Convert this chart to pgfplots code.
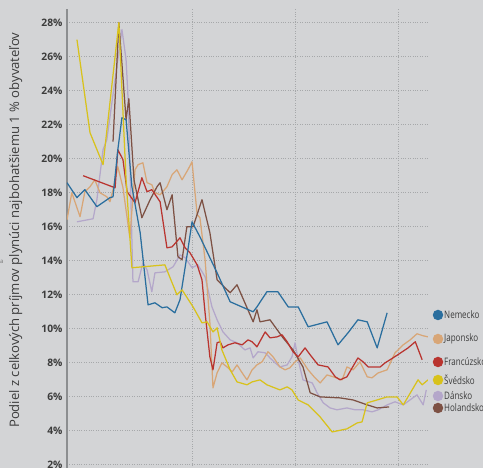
\documentclass[border=0pt]{standalone}
\usepackage{fontspec}
\setmainfont{Open Sans}
\usepackage{pgfplots}
\pgfplotsset{compat=1.18}
\definecolor{bg}{HTML}{D3D4D6}
\definecolor{gridc}{HTML}{A6A8AA}
\definecolor{axc}{HTML}{8C8E90}
\definecolor{txt}{HTML}{3C3C3C}
\definecolor{cde}{HTML}{2A6E9E}
\definecolor{cjp}{HTML}{D8A677}
\definecolor{cfr}{HTML}{B9342F}
\definecolor{cse}{HTML}{D8C21C}
\definecolor{cdk}{HTML}{B4A7CA}
\definecolor{cnl}{HTML}{7D5144}
\newcommand{\lgd}[1]{\fontsize{10.3}{12}\selectfont\scalebox{0.78}[1]{#1}}
\begin{document}
\begin{tikzpicture}
\fill[bg] (0pt,0pt) rectangle (483pt,468pt);
\begin{axis}[
  at={(67pt,0pt)}, anchor=south west,
  scale only axis, width=361pt, height=459pt,
  xmin=1903.6, xmax=2008.7, ymin=1.82, ymax=28.8,
  axis lines=left, axis line style={-},
  x axis line style={draw=none},
  y axis line style={draw=axc, line width=1.1pt},
  xtick={1940,1970,2000}, xticklabels={},
  ytick={2,4,...,28},
  yticklabel={\pgfmathprintnumber{\tick}\%},
  /pgf/number format/assume math mode=true,
  yticklabel style={font=\fontsize{10.3}{12}\selectfont\bfseries, text=txt, xshift=-1pt},
  major tick length=0pt,
  grid=major,
  major grid style={gridc, dotted, line width=0.9pt},
  ylabel={Podiel z celkových príjmov plynúci najbohatšiemu 1 \% obyvateľov},
  ylabel style={at={(axis description cs:-0.142,0.518)}, anchor=center, font=\fontsize{13.1}{15}\selectfont, text=txt},
  every axis plot/.append style={line width=1.25pt, no marks, line join=round},
]
% Denmark
\addplot[cdk] coordinates {
(1906.5,16.29)(1911.2,16.47)(1912.3,17.59)(1914.1,20.53)(1915.2,21.12)(1917.6,24.65)(1919.6,27.59)(1920.8,25.82)(1921.4,23.47)(1922.2,17.59)(1922.8,12.76)(1924.3,12.76)(1925.7,13.88)(1926.9,13.47)(1928.3,12.18)(1929.2,13.29)(1932.1,13.35)(1934.5,13.65)(1936.5,14.35)(1938.0,14.18)(1940.0,13.59)(1941.7,13.76)(1943.8,13.06)(1945.8,11.29)(1947.3,10.53)(1949.0,9.82)(1951.1,9.35)(1953.1,9.18)(1955.4,8.76)(1956.9,8.88)(1957.8,8.29)(1959.2,8.65)(1961.3,8.59)(1962.7,8.29)(1964.2,8.0)(1965.6,7.76)(1967.7,7.88)(1969.1,8.35)(1970.0,9.18)(1970.9,8.18)(1972.3,7.0)(1975.0,6.82)(1976.4,6.24)(1978.2,5.65)(1980.2,5.35)(1982.2,5.24)(1985.1,5.35)(1987.5,5.24)(1989.8,5.24)(1992.4,5.12)(1994.2,5.24)(1996.8,5.53)(1999.1,5.71)(2001.5,5.53)(2005.5,6.12)(2007.3,5.53)(2008.2,6.41)
};
% Japan
\addplot[cjp] coordinates {
(1903.6,16.41)(1905.0,18.0)(1907.4,16.59)(1908.8,18.06)(1910.3,18.35)(1911.7,18.76)(1913.2,18.0)(1915.2,17.76)(1916.1,17.47)(1917.0,18.18)(1918.4,19.53)(1919.9,18.29)(1921.9,15.35)(1923.4,19.35)(1924.3,19.65)(1925.7,19.76)(1926.9,18.59)(1928.3,18.47)(1929.2,18.0)(1930.7,17.88)(1932.7,18.35)(1934.2,19.06)(1935.6,19.35)(1937.1,18.76)(1938.8,19.35)(1940.0,19.82)(1941.5,16.71)(1942.3,16.53)(1943.8,14.06)(1945.2,10.35)(1946.1,6.53)(1947.3,7.41)(1948.7,8.0)(1950.2,7.76)(1951.7,7.47)(1953.1,7.88)(1954.6,7.41)(1956.0,7.0)(1957.5,7.59)(1958.9,7.88)(1960.4,8.06)(1962.1,8.65)(1963.6,8.35)(1965.6,7.76)(1967.1,7.59)(1968.5,7.71)(1970.0,8.06)(1971.5,8.29)(1973.8,7.59)(1975.8,7.12)(1977.3,6.82)(1979.3,7.29)(1981.1,7.18)(1983.7,7.0)(1985.1,7.76)(1986.9,7.59)(1988.9,8.06)(1991.0,7.18)(1992.4,7.12)(1994.2,7.41)(1996.8,7.59)(1999.1,8.59)(2001.5,9.06)(2003.5,9.35)(2005.5,9.71)(2007.3,9.59)(2008.7,9.53)
};
% Netherlands
\addplot[cnl] coordinates {
(1917.0,21.0)(1918.7,28.0)(1920.8,22.29)(1921.6,23.53)(1923.1,18.76)(1925.4,16.53)(1927.8,17.59)(1929.8,18.35)(1930.7,18.59)(1932.7,17.0)(1934.2,17.88)(1935.9,14.24)(1937.1,14.06)(1938.5,16.0)(1940.3,16.0)(1942.9,17.59)(1945.2,15.65)(1947.3,12.88)(1951.1,12.12)(1953.1,12.59)(1957.8,10.41)(1958.9,11.12)(1959.8,10.41)(1962.7,10.53)(1966.5,9.47)(1969.4,8.76)(1972.3,7.76)(1974.4,6.24)(1977.3,6.0)(1983.1,5.94)(1986.9,5.82)(1991.0,5.53)(1993.9,5.35)(1997.4,5.41)
};
% France
\addplot[cfr] coordinates {
(1908.3,19.0)(1917.6,18.29)(1918.4,20.53)(1919.9,19.94)(1921.1,18.06)(1923.4,17.41)(1925.4,18.88)(1926.9,18.06)(1928.3,18.18)(1930.7,17.47)(1932.7,14.76)(1934.2,14.82)(1936.5,15.35)(1938.0,14.76)(1939.4,14.47)(1941.5,13.76)(1942.9,12.88)(1943.8,10.94)(1945.2,8.35)(1946.1,7.59)(1947.3,9.18)(1948.2,9.24)(1949.0,8.88)(1950.5,9.06)(1952.5,9.18)(1954.6,9.06)(1956.3,9.35)(1957.5,9.24)(1958.9,8.94)(1961.3,9.82)(1962.7,9.47)(1964.8,9.53)(1966.2,9.65)(1967.7,9.24)(1969.4,8.65)(1970.9,8.35)(1972.9,8.88)(1974.4,8.47)(1976.7,7.88)(1979.6,7.76)(1981.7,7.18)(1983.1,7.0)(1985.1,7.18)(1988.3,8.29)(1989.8,8.06)(1991.3,7.76)(1994.8,7.76)(1996.2,8.0)(1998.5,8.29)(2001.2,8.65)(2002.9,8.88)(2005.0,9.24)(2007.0,8.18)
};
% Germany
\addplot[cde] coordinates {
(1903.6,18.59)(1906.5,17.71)(1908.8,18.18)(1912.3,17.18)(1916.1,17.71)(1917.0,17.76)(1918.4,20.53)(1919.6,22.41)(1920.8,22.29)(1922.5,18.35)(1924.9,15.65)(1927.2,11.41)(1929.2,11.53)(1931.3,11.24)(1932.7,11.29)(1935.0,10.94)(1936.5,11.71)(1938.8,14.65)(1940.0,16.29)(1942.3,15.41)(1947.3,13.29)(1951.1,11.59)(1957.8,11.0)(1958.9,11.29)(1961.8,12.18)(1965.0,12.18)(1968.0,11.29)(1970.9,11.29)(1973.8,10.12)(1979.3,10.41)(1982.5,9.06)(1985.4,9.76)(1988.3,10.53)(1991.0,10.41)(1993.9,8.88)(1996.8,10.94)
};
% Sweden
\addplot[cse] coordinates {
(1906.5,27.0)(1910.3,21.53)(1914.1,19.65)(1918.7,28.0)(1920.8,18.76)(1922.5,13.59)(1932.1,13.76)(1935.6,12.0)(1937.1,12.29)(1940.3,11.29)(1942.9,10.35)(1944.4,10.41)(1946.1,9.82)(1947.3,10.06)(1948.7,8.76)(1951.1,7.59)(1953.1,6.88)(1956.0,6.71)(1957.5,6.88)(1959.8,7.0)(1961.8,6.71)(1965.6,6.41)(1967.7,6.59)(1969.1,6.41)(1970.9,5.82)(1973.8,5.53)(1977.3,4.82)(1980.8,3.94)(1985.1,4.12)(1988.1,4.47)(1989.5,4.53)(1991.0,5.65)(1993.9,5.82)(1996.8,6.0)(1999.7,6.0)(2001.5,5.53)(2005.8,7.0)(2007.0,6.71)(2008.7,7.0)
};
\end{axis}
% legend
\node[circle, fill=cde, inner sep=0pt, minimum size=10.5pt] at (438pt,153pt) {};
\node[anchor=west, inner sep=0pt, text=txt] at (444pt,153pt) {\lgd{Nemecko}};
\node[circle, fill=cjp, inner sep=0pt, minimum size=10.5pt] at (438pt,129pt) {};
\node[anchor=west, inner sep=0pt, text=txt] at (444pt,129pt) {\lgd{Japonsko}};
\node[circle, fill=cfr, inner sep=0pt, minimum size=10.5pt] at (438pt,106pt) {};
\node[anchor=west, inner sep=0pt, text=txt] at (444pt,106pt) {\lgd{Francúzsko}};
\node[circle, fill=cse, inner sep=0pt, minimum size=10.5pt] at (438pt,88pt) {};
\node[anchor=west, inner sep=0pt, text=txt] at (444pt,88pt) {\lgd{Švédsko}};
\node[circle, fill=cdk, inner sep=0pt, minimum size=10.5pt] at (438pt,72pt) {};
\node[anchor=west, inner sep=0pt, text=txt] at (444pt,72pt) {\lgd{Dánsko}};
\node[circle, fill=cnl, inner sep=0pt, minimum size=10.5pt] at (438pt,60pt) {};
\node[anchor=west, inner sep=0pt, text=txt] at (444pt,60pt) {\lgd{Holandsko}};
\node[anchor=west, inner sep=0pt, text=txt!70] at (0pt,206pt) {\fontsize{6}{6}\selectfont a};
\pgfresetboundingbox
\useasboundingbox (0pt,0pt) rectangle (483pt,468pt);
\end{tikzpicture}
\end{document}
